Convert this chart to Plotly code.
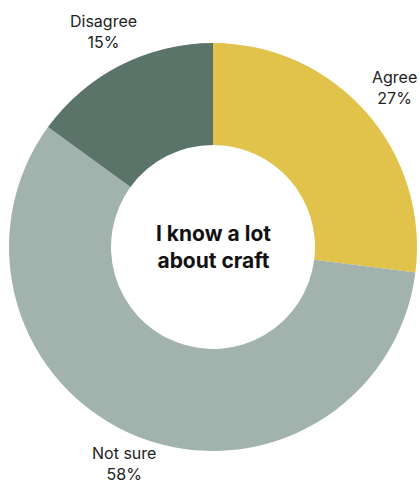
import math
import plotly.graph_objects as go

# Survey responses
labels = ["Agree", "Not sure", "Disagree"]
values = [27, 58, 15]
colors = ["#E1C24A", "#A2B2AC", "#5B7469"]
center_title = "I know a lot<br>about craft"

W, H = 420, 484
dom_x = [9 / W, 417 / W]
dom_y = [1 - 452 / H, 1 - 42 / H]

fig = go.Figure(
    go.Pie(
        labels=labels,
        values=values,
        marker=dict(colors=colors, line=dict(width=0)),
        hole=0.5,
        sort=False,
        direction="clockwise",
        rotation=0,
        textinfo="none",
        hoverinfo="label+percent",
        domain=dict(x=dom_x, y=dom_y),
        showlegend=False,
    )
)

# Outside labels placed along each slice's mid-angle, kept inside the page
label_size = 16
cx = (dom_x[0] + dom_x[1]) / 2 * W
cy = (1 - (dom_y[0] + dom_y[1]) / 2) * H
radius = min((dom_x[1] - dom_x[0]) * W, (dom_y[1] - dom_y[0]) * H) / 2
label_r = radius * 1.185
half_h = label_size * 1.3
total = sum(values)
cum = 0
annotations = []
for lab, v in zip(labels, values):
    mid = (cum + v / 2) / total * 2 * math.pi
    cum += v
    px = cx + label_r * math.sin(mid)
    py = cy - label_r * math.cos(mid)
    py = min(max(py, half_h), H - half_h)
    annotations.append(
        dict(
            x=px / W,
            y=1 - py / H,
            xref="paper",
            yref="paper",
            text=f"{lab}<br>{round(v / total * 100)}%",
            showarrow=False,
            xanchor="center",
            yanchor="middle",
            font=dict(family="Inter, Open Sans, sans-serif", size=label_size, color="#222222"),
        )
    )

annotations.append(
    dict(
        x=cx / W,
        y=1 - cy / H,
        xref="paper",
        yref="paper",
        text=f"<b>{center_title}</b>",
        showarrow=False,
        xanchor="center",
        yanchor="middle",
        font=dict(family="Inter, Open Sans, sans-serif", size=21, color="#111111"),
    )
)

fig.update_layout(
    width=W,
    height=H,
    margin=dict(l=0, r=0, t=0, b=0),
    paper_bgcolor="white",
    plot_bgcolor="white",
    annotations=annotations,
)

fig.write_html("out.html")
